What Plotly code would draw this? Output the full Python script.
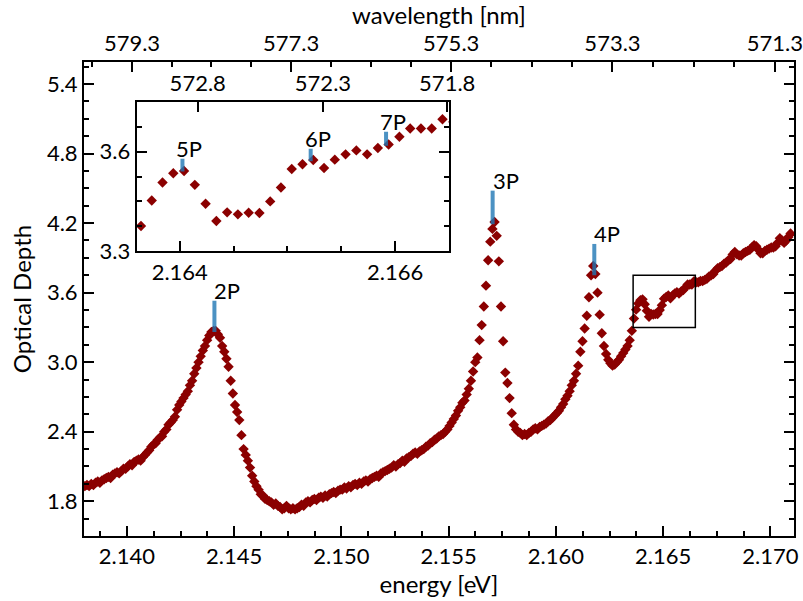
import numpy as np
import plotly.graph_objects as go

# ---------------- data ----------------
E_START = 2.13804      # first energy sample [eV]
E_STEP = 0.0001        # uniform sampling step [eV]

optical_depth = [
    1.93, 1.94, 1.93, 1.95, 1.94, 1.96, 1.97, 1.96, 1.98, 1.99,
    2.00, 2.01, 2.00, 2.03, 2.04, 2.05, 2.04, 2.06, 2.08, 2.08,
    2.10, 2.12, 2.11, 2.14, 2.15, 2.16, 2.15, 2.18, 2.20, 2.22,
    2.24, 2.27, 2.29, 2.30, 2.33, 2.35, 2.36, 2.40, 2.42, 2.46,
    2.48, 2.50, 2.53, 2.59, 2.63, 2.66, 2.69, 2.72, 2.75, 2.80,
    2.84, 2.90, 2.95, 3.00, 3.05, 3.10, 3.14, 3.19, 3.23, 3.26,
    3.27, 3.27, 3.24, 3.21, 3.14, 3.09, 3.03, 2.96, 2.84, 2.73,
    2.63, 2.57, 2.50, 2.37, 2.25, 2.20, 2.15, 2.09, 2.02, 1.97,
    1.93, 1.90, 1.86, 1.85, 1.82, 1.81, 1.80, 1.79, 1.77, 1.78,
    1.76, 1.75, 1.73, 1.74, 1.76, 1.74, 1.73, 1.74, 1.73, 1.74,
    1.75, 1.77, 1.76, 1.79, 1.80, 1.79, 1.81, 1.82, 1.81, 1.83,
    1.84, 1.83, 1.85, 1.84, 1.86, 1.87, 1.88, 1.87, 1.89, 1.90,
    1.90, 1.92, 1.91, 1.93, 1.92, 1.94, 1.95, 1.94, 1.96, 1.95,
    1.97, 1.98, 1.97, 1.99, 2.00, 2.01, 2.02, 2.01, 2.04, 2.05,
    2.06, 2.07, 2.08, 2.09, 2.11, 2.10, 2.12, 2.13, 2.15, 2.14,
    2.17, 2.18, 2.19, 2.21, 2.22, 2.21, 2.23, 2.24, 2.25, 2.27,
    2.28, 2.30, 2.31, 2.33, 2.34, 2.36, 2.37, 2.38, 2.40, 2.42,
    2.45, 2.48, 2.51, 2.54, 2.58, 2.61, 2.65, 2.67, 2.72, 2.77,
    2.84, 2.92, 3.00, 3.04, 3.19, 3.32, 3.48, 3.66, 3.88, 4.04,
    4.15, 4.21, 4.09, 3.87, 3.48, 3.18, 2.91, 2.82, 2.69, 2.56,
    2.46, 2.42, 2.40, 2.39, 2.37, 2.38, 2.37, 2.39, 2.40, 2.42,
    2.43, 2.42, 2.44, 2.45, 2.46, 2.47, 2.49, 2.50, 2.52, 2.54,
    2.56, 2.58, 2.61, 2.64, 2.68, 2.71, 2.75, 2.80, 2.84, 2.90,
    2.97, 3.09, 3.18, 3.29, 3.40, 3.56, 3.75, 3.83, 3.76, 3.60,
    3.41, 3.25, 3.14, 3.07, 3.02, 2.99, 2.97, 2.98, 3.00, 3.02,
    3.05, 3.08, 3.11, 3.14, 3.19, 3.27,
    3.376, 3.453, 3.507, 3.535, 3.542, 3.500, 3.443, 3.391, 3.417, 3.411,
    3.416, 3.415, 3.450, 3.492, 3.548, 3.562, 3.575, 3.551, 3.576, 3.592,
    3.604, 3.592, 3.611, 3.622, 3.645, 3.670, 3.670, 3.670, 3.698,
    3.69, 3.69, 3.70, 3.70, 3.71, 3.72, 3.74, 3.75, 3.76, 3.79,
    3.81, 3.82, 3.83, 3.85, 3.86, 3.88, 3.89, 3.93, 3.95, 3.93,
    3.92, 3.92, 3.94, 3.95, 3.96, 3.97, 3.99, 4.01, 4.00, 3.97,
    3.94, 3.94, 3.96, 3.97, 3.98, 3.99, 3.99, 4.00, 4.03, 4.07,
    4.05, 4.03, 4.05, 4.08, 4.11,
]
energy = np.round(E_START + E_STEP * np.arange(len(optical_depth)), 5)

# Rydberg-state markers (main plot)
main_labels = ["2P", "3P", "4P"]
main_energy = [2.14408, 2.15705, 2.16179]
main_low = [3.26, 4.19, 3.75]
main_high = [3.53, 4.48, 4.02]

# Rydberg-state markers (inset)
inset_labels = ["5P", "6P", "7P"]
inset_energy = [2.164025, 2.165216, 2.165916]
inset_low = [3.540, 3.571, 3.618]
inset_high = [3.579, 3.609, 3.660]

# tick labels
x_ticks = [2.140, 2.145, 2.150, 2.155, 2.160, 2.165, 2.170]
y_ticks = [1.8, 2.4, 3.0, 3.6, 4.2, 4.8, 5.4]
HC = 1239.84  # eV nm
wl_major = [579.3, 577.3, 575.3, 573.3, 571.3]
wl_minor = [579.8, 578.8, 578.3, 577.8, 576.8, 576.3, 575.8,
            574.8, 574.3, 573.8, 572.8, 572.3, 571.8]
inset_x_ticks = [2.164, 2.166]
inset_y_ticks = [3.3, 3.6]
inset_wl_labels = ["572.8", "572.3", "571.8"]
inset_wl_energy = [2.164167, 2.16533, 2.166484]

X_RANGE = [2.138, 2.1711]
Y_RANGE = [1.5, 5.59]
INS_X = [2.1636, 2.1665]
INS_Y = [3.3, 3.75]

# ---------------- style ----------------
FONT = "Lato"
FS = 22
FT = 24
RED = "#8B0000"
BLUE = "rgba(31,119,180,0.8)"

fig = go.Figure()
mk = dict(symbol="diamond", size=8, color=RED, line=dict(width=0))
fig.add_trace(go.Scatter(x=energy, y=optical_depth, mode="markers", marker=mk,
                         xaxis="x", yaxis="y", hoverinfo="skip", showlegend=False))
fig.add_trace(go.Scatter(x=energy, y=optical_depth, mode="markers", marker=mk,
                         xaxis="x3", yaxis="y3", hoverinfo="skip", showlegend=False))
# invisible traces to activate the wavelength axes
fig.add_trace(go.Scatter(x=[X_RANGE[0]], y=[Y_RANGE[0]], mode="markers",
                         marker=dict(opacity=0), xaxis="x2", yaxis="y",
                         hoverinfo="skip", showlegend=False))
fig.add_trace(go.Scatter(x=[INS_X[0]], y=[INS_Y[0]], mode="markers",
                         marker=dict(opacity=0), xaxis="x4", yaxis="y3",
                         hoverinfo="skip", showlegend=False))

axis_common = dict(showgrid=False, zeroline=False, showline=True, linecolor="black",
                   linewidth=2, ticks="inside", ticklen=10, tickwidth=1.5,
                   tickcolor="black", automargin=False, ticklabeloverflow="allow",
                   tickfont=dict(family=FONT, size=FS, color="black"))
minor_common = dict(ticks="inside", ticklen=5, tickwidth=1.5, tickcolor="black")

fig.update_layout(
    width=803, height=601,
    margin=dict(l=84, r=9, t=62, b=65),
    paper_bgcolor="white", plot_bgcolor="white",
    font=dict(family=FONT, size=FS, color="black"),
    showlegend=False,
    xaxis=dict(**axis_common, range=X_RANGE, tickmode="array", tickvals=x_ticks,
               ticktext=[f"{v:.3f}" for v in x_ticks],
               minor=dict(**minor_common, tick0=2.140, dtick=0.00125),
               title=dict(text="energy [eV]", font=dict(family=FONT, size=FT), standoff=4),
               anchor="y", domain=[0, 1]),
    yaxis=dict(**axis_common, range=Y_RANGE, tickmode="array", tickvals=y_ticks,
               ticktext=[f"{v:.1f}" for v in y_ticks], mirror="ticks",
               minor=dict(**minor_common, tick0=1.8, dtick=0.15),
               title=dict(text="Optical Depth", font=dict(family=FONT, size=FT), standoff=8),
               anchor="x", domain=[0, 1]),
    xaxis2=dict(**axis_common, range=X_RANGE, overlaying="x", side="top", anchor="y",
                tickmode="array", tickvals=[HC / w for w in wl_major],
                ticktext=[f"{w:.1f}" for w in wl_major],
                minor=dict(**minor_common, tickmode="array",
                           tickvals=[HC / w for w in wl_minor]),
                title=dict(text="wavelength [nm]", font=dict(family=FONT, size=FT), standoff=4)),
    xaxis3=dict(**axis_common, range=INS_X, domain=[0.0742, 0.514], anchor="y3",
                tickmode="array", tickvals=inset_x_ticks,
                ticktext=[f"{v:.3f}" for v in inset_x_ticks], mirror=True,
                minor=dict(**minor_common, tick0=2.164, dtick=0.0005)),
    yaxis3=dict(**axis_common, range=INS_Y, domain=[0.601, 0.9156], anchor="x3",
                tickmode="array", tickvals=inset_y_ticks,
                ticktext=[f"{v:.1f}" for v in inset_y_ticks], mirror="ticks",
                minor=dict(**minor_common, tick0=3.3, dtick=0.075)),
    xaxis4=dict(**axis_common, range=INS_X, overlaying="x3", side="top", anchor="y3",
                tickmode="array", tickvals=inset_wl_energy, ticktext=inset_wl_labels),
)

shapes = []
annotations = []
for lab, e, lo, hi in zip(main_labels, main_energy, main_low, main_high):
    shapes.append(dict(type="line", xref="x", yref="y", x0=e, x1=e, y0=lo, y1=hi,
                       line=dict(color=BLUE, width=4)))
    annotations.append(dict(x=e, y=hi, xref="x", yref="y", text=lab, showarrow=False,
                            xanchor="left", yanchor="bottom", xshift=-2, yshift=-5,
                            font=dict(family=FONT, size=FS, color="black")))
for lab, e, lo, hi in zip(inset_labels, inset_energy, inset_low, inset_high):
    shapes.append(dict(type="line", xref="x3", yref="y3", x0=e, x1=e, y0=lo, y1=hi,
                       line=dict(color=BLUE, width=4)))
    annotations.append(dict(x=e, y=hi, xref="x3", yref="y3", text=lab, showarrow=False,
                            xanchor="left", yanchor="bottom", xshift=-8, yshift=-5,
                            font=dict(family=FONT, size=FS, color="black")))
# rectangle marking the inset region
shapes.append(dict(type="rect", xref="x", yref="y", x0=INS_X[0], x1=INS_X[1],
                   y0=INS_Y[0], y1=INS_Y[1], line=dict(color="black", width=1.5)))

fig.update_layout(shapes=shapes, annotations=annotations)
fig.write_html("out.html")
